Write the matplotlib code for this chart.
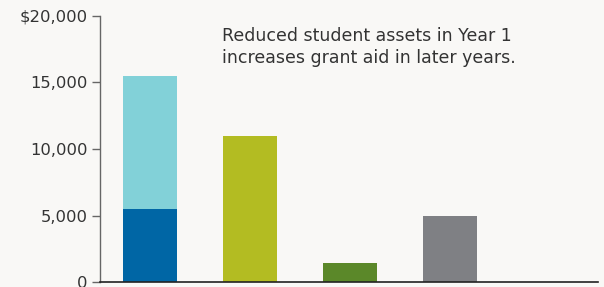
import numpy as np
import matplotlib.pyplot as plt

# bar values
positions = [0, 1, 2, 3]
base_vals = [5500, 11000, 1400, 5000]
top_vals = [10000, 0, 0, 0]
base_colors = ["#0066a5", "#b3bc22", "#5b8829", "#7f8084"]
top_color = "#82d1d8"
yticks = [0, 5000, 10000, 15000, 20000]
ytick_labels = ["0", "5,000", "10,000", "15,000", "$20,000"]
note = "Reduced student assets in Year 1\nincreases grant aid in later years."

bg = "#f9f8f6"
plt.rcParams['font.family'] = ['DejaVu Sans']

fig = plt.figure(figsize=(6.04, 2.87), dpi=100, facecolor=bg)
ax = fig.add_axes([100/604, 5/287, 498/604, 266/287], facecolor=bg)

ax.bar(positions, base_vals, width=0.54, color=base_colors)
ax.bar(positions, top_vals, width=0.54, bottom=base_vals, color=top_color)

ax.set_xlim(-0.5, 4.48)
ax.set_ylim(0, 20000)
ax.set_yticks(yticks)
ax.set_yticklabels(ytick_labels, fontsize=11.8, color="#333333")
ax.set_xticks([])
ax.tick_params(axis='y', length=6, width=1, color="#666666", pad=3)

for s in ["top", "right"]:
    ax.spines[s].set_visible(False)
ax.spines["left"].set_color("#666666")
ax.spines["bottom"].set_color("#222222")
ax.spines["left"].set_linewidth(1)
ax.spines["bottom"].set_linewidth(1.2)

ax.text(0.72, 19150, note, fontsize=12.5, color="#333333", va="top", ha="left",
        linespacing=1.25)

fig.savefig("out.png", dpi=100, facecolor=bg)
